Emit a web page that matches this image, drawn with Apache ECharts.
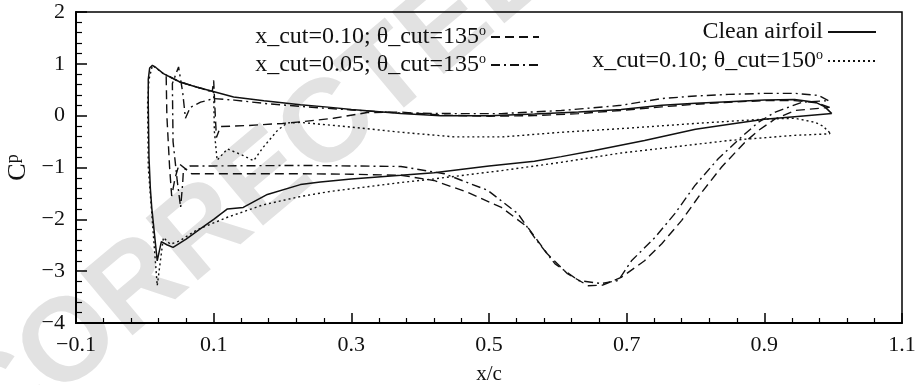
<!DOCTYPE html>
<html><head><meta charset="utf-8">
<script src="https://cdn.jsdelivr.net/npm/echarts@6/dist/echarts.min.js"></script>
<style>html,body{margin:0;padding:0;background:#fff}#c{width:921px;height:385px}</style>
</head><body><div id="c"></div>
<script>
const xTickLabels = ['−0.1','0.1','0.3','0.5','0.7','0.9','1.1'];
const yTickLabels = ['−4','−3','−2','−1','0','1','2'];
const seriesNames = ['x_cut=0.10; θ_cut=135°','x_cut=0.05; θ_cut=135°','Clean airfoil','x_cut=0.10; θ_cut=150°'];

const cleanAirfoil = [[0.998,0.04],[0.988,0.17],[0.974,0.26],[0.944,0.31],[0.90,0.30],[0.848,0.27],[0.80,0.24],[0.751,0.20],[0.692,0.12],[0.63,0.07],[0.566,0.03],[0.50,0.0],[0.43,0.0],[0.372,0.04],[0.30,0.12],[0.27,0.16],[0.226,0.21],[0.173,0.29],[0.129,0.36],[0.098,0.47],[0.076,0.55],[0.051,0.65],[0.027,0.81],[0.016,0.93],[0.011,0.97],[0.007,0.92],[0.005,0.7],[0.005,0.2],[0.006,-0.8],[0.008,-1.4],[0.01,-1.77],[0.018,-2.8],[0.024,-2.43],[0.032,-2.49],[0.041,-2.54],[0.06,-2.38],[0.081,-2.18],[0.10,-2.0],[0.12,-1.8],[0.143,-1.77],[0.178,-1.52],[0.226,-1.33],[0.255,-1.28],[0.3,-1.22],[0.372,-1.15],[0.42,-1.1],[0.5,-0.97],[0.566,-0.88],[0.605,-0.79],[0.653,-0.67],[0.726,-0.48],[0.8,-0.26],[0.857,-0.15],[0.9,-0.07],[0.944,-0.02],[0.998,0.04]];

const cut010t135 = [[0.995,0.16],[0.975,0.25],[0.944,0.29],[0.9,0.29],[0.848,0.26],[0.8,0.22],[0.751,0.17],[0.692,0.1],[0.63,0.04],[0.566,0.0],[0.5,-0.01],[0.43,0.01],[0.372,0.07],[0.323,0.06],[0.274,-0.05],[0.226,-0.12],[0.2,-0.15],[0.15,-0.19],[0.11,-0.21],[0.104,-0.42],[0.102,0.1],[0.1,0.68],[0.098,0.47],[0.076,0.55],[0.051,0.65],[0.031,0.79],[0.032,0.0],[0.036,-1.0],[0.039,-1.55],[0.044,-1.2],[0.05,-0.93],[0.068,-1.12],[0.1,-1.12],[0.226,-1.12],[0.3,-1.13],[0.372,-1.15],[0.42,-1.25],[0.469,-1.48],[0.518,-1.77],[0.556,-2.15],[0.585,-2.67],[0.614,-3.05],[0.644,-3.28],[0.665,-3.27],[0.692,-3.12],[0.726,-2.8],[0.751,-2.47],[0.78,-2.02],[0.809,-1.48],[0.838,-0.99],[0.872,-0.51],[0.891,-0.29],[0.916,-0.06],[0.945,0.10],[0.995,0.16]];

const cut005t135 = [[0.993,0.29],[0.979,0.39],[0.945,0.43],[0.9,0.43],[0.848,0.41],[0.8,0.38],[0.751,0.33],[0.692,0.2],[0.65,0.15],[0.605,0.1],[0.518,0.04],[0.45,0.04],[0.372,0.05],[0.3,0.11],[0.255,0.15],[0.178,0.23],[0.13,0.3],[0.1,0.33],[0.081,0.26],[0.066,0.16],[0.059,-0.05],[0.055,0.45],[0.049,0.94],[0.04,0.62],[0.041,-0.5],[0.047,-1.25],[0.052,-1.77],[0.055,-1.3],[0.056,-1.06],[0.066,-0.97],[0.1,-0.97],[0.226,-0.96],[0.372,-0.98],[0.435,-1.12],[0.498,-1.44],[0.542,-1.89],[0.566,-2.35],[0.596,-2.86],[0.63,-3.18],[0.663,-3.24],[0.688,-3.18],[0.707,-2.8],[0.741,-2.35],[0.77,-1.89],[0.799,-1.35],[0.833,-0.83],[0.867,-0.41],[0.891,-0.13],[0.916,0.07],[0.955,0.26],[0.993,0.29]];

const cut010t150 = [[0.995,-0.33],[0.985,-0.2],[0.974,-0.13],[0.944,-0.05],[0.896,-0.07],[0.8,-0.15],[0.692,-0.25],[0.605,-0.32],[0.52,-0.41],[0.45,-0.41],[0.372,-0.32],[0.3,-0.22],[0.226,-0.13],[0.207,-0.14],[0.193,-0.28],[0.172,-0.61],[0.158,-0.87],[0.143,-0.77],[0.12,-0.64],[0.105,-0.86],[0.101,-0.3],[0.1,0.45],[0.076,0.55],[0.051,0.65],[0.027,0.81],[0.011,0.97],[0.006,0.7],[0.004,0.23],[0.005,-1.0],[0.009,-1.7],[0.018,-3.28],[0.027,-2.35],[0.037,-2.48],[0.05,-2.42],[0.076,-2.2],[0.12,-1.96],[0.172,-1.72],[0.226,-1.56],[0.27,-1.46],[0.372,-1.29],[0.42,-1.22],[0.518,-1.06],[0.605,-0.9],[0.692,-0.72],[0.751,-0.63],[0.848,-0.48],[0.944,-0.38],[0.995,-0.35],[0.995,-0.33]];

const FONT = '"Liberation Serif", "Times New Roman", serif';
const chart = echarts.init(document.getElementById('c'), null, {renderer:'canvas'});

function legendFmt(name){
  if (name.indexOf('°') >= 0) return '{t|' + name.replace('°','') + '}{s|o}';
  return '{t|' + name + '}';
}
const legendText = {
  fontFamily: FONT, fontSize: 24, color: '#111',
  rich: {
    t: {fontFamily: FONT, fontSize: 24, lineHeight: 26, color:'#111'},
    s: {fontFamily: FONT, fontSize: 14, lineHeight: 4, verticalAlign: 'top', color:'#111'}
  }
};
function mkLegend(name, right, top){
  return {data:[name], right: right, top: top, align: 'right', orient:'horizontal', padding: 0,
    itemWidth: 48, itemHeight: 14, itemGap: 0, selectedMode: false,
    itemStyle: {opacity: 0, borderWidth: 0},
    formatter: legendFmt, textStyle: legendText};
}
const lineBase = {type:'line', showSymbol:false, symbol:'none', animation:false, silent:true};

chart.setOption({
  animation: false,
  backgroundColor: '#fff',
  graphic: [{type:'text', x:-30, y:429, rotation: 40 * Math.PI / 180, z:-10, silent:true,
    style:{text:'CORRECTED PROOF', font:'bold 118px "Liberation Sans", Arial, sans-serif', fill:'#e2e2e2', verticalAlign:'middle'}}],
  grid: {left:76, right:19, top:12, bottom:62, show:true, borderColor:'#000', borderWidth:1.5,
    backgroundColor:'transparent', containLabel:false, outerBoundsMode:'none'},
  legend: [
    mkLegend(seriesNames[0], 381, 24),
    mkLegend(seriesNames[1], 381, 52),
    mkLegend(seriesNames[2], 44, 20),
    mkLegend(seriesNames[3], 44, 48)
  ],
  xAxis: {
    type:'value', min:-0.1, max:1.1, interval:0.2,
    name:'x/c', nameLocation:'middle', nameGap:41,
    nameTextStyle:{fontFamily:FONT, fontSize:21, color:'#111'},
    axisLine:{show:true, onZero:false, lineStyle:{color:'#000', width:2}},
    axisTick:{show:true, inside:true, length:10, lineStyle:{color:'#000', width:1.5}},
    minorTick:{show:true, splitNumber:5, length:5, lineStyle:{color:'#000', width:1.2}},
    splitLine:{show:false},
    axisLabel:{margin:11, fontFamily:FONT, fontSize:22, color:'#111', showMinLabel:true, showMaxLabel:true,
      formatter: v => xTickLabels[Math.round((v + 0.1) / 0.2)]}
  },
  yAxis: {
    type:'value', min:-4, max:2, interval:1,
    name:'{c|C}{p|p}', nameLocation:'middle', nameGap:37,
    nameTextStyle:{fontFamily:FONT, color:'#111',
      rich:{c:{fontFamily:FONT, fontSize:26, lineHeight:26, verticalAlign:'top', color:'#111'},
            p:{fontFamily:FONT, fontSize:18, lineHeight:32, verticalAlign:'top', color:'#111'}}},
    axisLine:{show:true, onZero:false, lineStyle:{color:'#000', width:2}},
    axisTick:{show:true, inside:true, length:11, lineStyle:{color:'#000', width:1.5}},
    minorTick:{show:true, splitNumber:5, length:6, lineStyle:{color:'#000', width:1.2}},
    splitLine:{show:false},
    axisLabel:{margin:11, fontFamily:FONT, fontSize:22, color:'#111', showMinLabel:true, showMaxLabel:true,
      formatter: v => yTickLabels[Math.round(v + 4)]}
  },
  series: [
    Object.assign({}, lineBase, {name:seriesNames[0], data:cut010t135, lineStyle:{color:'#111', width:1.4, type:[9,5]}, itemStyle:{color:'#111'}}),
    Object.assign({}, lineBase, {name:seriesNames[1], data:cut005t135, lineStyle:{color:'#111', width:1.4, type:[9,4,2,4]}, itemStyle:{color:'#111'}}),
    Object.assign({}, lineBase, {name:seriesNames[2], data:cleanAirfoil, lineStyle:{color:'#111', width:1.5, type:'solid'}, itemStyle:{color:'#111'}}),
    Object.assign({}, lineBase, {name:seriesNames[3], data:cut010t150, lineStyle:{color:'#111', width:1.4, type:[2,3]}, itemStyle:{color:'#111'}})
  ]
});
</script></body></html>
